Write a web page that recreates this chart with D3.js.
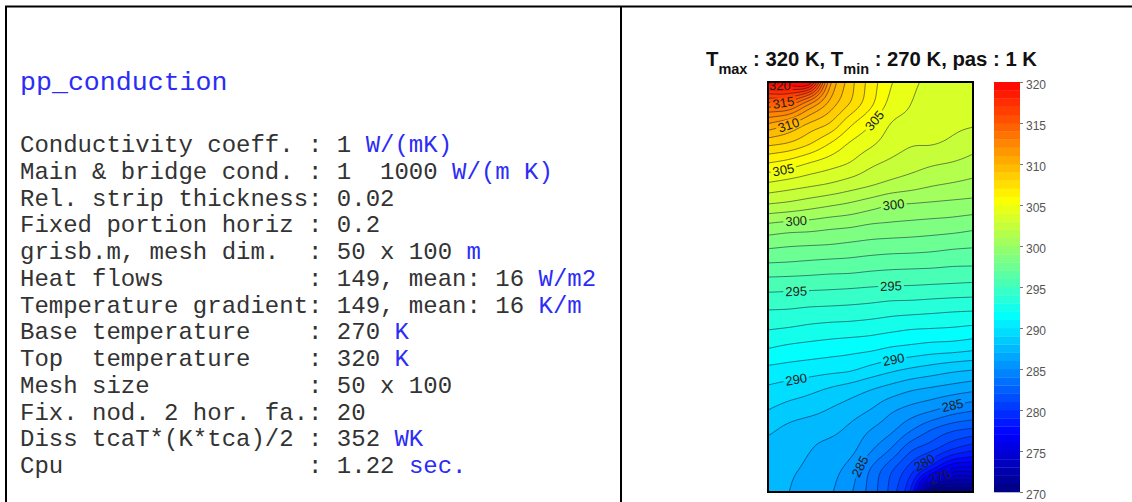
<!DOCTYPE html>
<html>
<head>
<meta charset="utf-8">
<title>pp_conduction</title>
<script src="https://cdn.jsdelivr.net/npm/d3@7/dist/d3.min.js"></script>
<style>
  html, body { margin: 0; padding: 0; background: #fff; }
  svg { display: block; }
  .mono, .mono text, .mono tspan { font-family: "Liberation Mono", "Courier New", monospace; white-space: pre; }
  .sans { font-family: "Liberation Sans", Arial, Helvetica, sans-serif; }
</style>
</head>
<body>
<svg id="fig" width="1132" height="502"></svg>
<script>
// ---------------- data ----------------
// mesh node coordinates (m): columns left -> right, rows top -> base
const meshX = [0, 5, 10, 15, 20, 25, 30, 35, 40, 45, 50];
const meshY = [0, 5, 10, 15, 20, 25, 30, 35, 40, 45, 50, 55, 60, 65, 70, 75, 80, 85, 90, 95, 100];

// temperature at the mesh nodes (K), one row per meshY entry
const temperature = [
  [320, 320, 320, 311.5, 308.5, 306.6, 305.1, 304.2, 303.8, 303.5, 303.3],
  [315, 314.8, 312.5, 309.8, 308.0, 306.3, 304.7, 304.0, 303.6, 303.4, 303.2],
  [311.1, 310.3, 309.0, 308.0, 306.3, 305.1, 304.0, 303.7, 303.4, 303.2, 303.1],
  [308.3, 307.9, 307.1, 306.0, 304.9, 304.2, 303.5, 303.1, 303.05, 302.8, 302.4],
  [305.9, 305.5, 304.9, 304.4, 303.9, 303.2, 302.75, 302.4, 302.1, 301.9, 301.6],
  [303.8, 303.5, 303.2, 302.9, 302.5, 302.1, 301.7, 301.4, 301.1, 300.9, 300.7],
  [301.9, 301.7, 301.4, 301.1, 300.8, 300.4, 300.0, 299.9, 299.8, 299.7, 299.6],
  [299.8, 299.6, 299.5, 299.3, 299.15, 298.9, 298.8, 298.7, 298.6, 298.5, 298.3],
  [298.2, 298.05, 297.97, 297.9, 297.75, 297.6, 297.5, 297.45, 297.35, 297.2, 297.1],
  [296.75, 296.7, 296.6, 296.5, 296.45, 296.3, 296.2, 296.15, 296.1, 296.0, 295.97],
  [295.33, 295.27, 295.23, 295.17, 295.1, 295.0, 294.93, 294.9, 294.83, 294.77, 294.7],
  [294.13, 294.09, 293.97, 293.91, 293.84, 293.73, 293.56, 293.5, 293.4, 293.3, 293.25],
  [293.1, 292.97, 292.79, 292.66, 292.59, 292.46, 292.28, 292.1, 292.03, 291.95, 291.8],
  [292.0, 291.76, 291.61, 291.47, 291.33, 291.19, 290.89, 290.7, 290.5, 290.4, 290.2],
  [290.8, 290.64, 290.49, 290.33, 290.17, 289.71, 289.26, 288.9, 288.6, 288.3, 288.1],
  [289.8, 289.53, 289.26, 288.89, 288.51, 288.04, 287.57, 287.1, 286.8, 286.5, 286.2],
  [289.0, 288.61, 288.33, 287.94, 287.51, 286.97, 286.19, 285.6, 285.1, 284.5, 284.1],
  [288.2, 287.71, 287.38, 287.24, 286.76, 285.97, 285.19, 284.0, 282.9, 282.1, 281.7],
  [287.5, 287.31, 287.03, 286.64, 286.26, 285.07, 283.79, 282.0, 281.0, 279.7, 278.9],
  [287.4, 287.11, 286.83, 286.34, 285.56, 283.87, 282.09, 280.2, 277.5, 275.2, 275.0],
  [287.3, 287.01, 286.63, 286.14, 285.16, 283.57, 281.59, 278.5, 270, 270, 270]
];

const tMin = 270, tMax = 320, tStep = 1;
const colorTicks = [270, 275, 280, 285, 290, 295, 300, 305, 310, 315, 320];

// inline contour labels: level and approximate spot (m) on the line
const contourLabels = [
  { level: 320, x: 2.9, y: 0.7 },
  { level: 315, x: 3.9, y: 5.1 },
  { level: 310, x: 5.6, y: 11.5 },
  { level: 305, x: 3.7, y: 22.0 },
  { level: 305, x: 26.1, y: 9.5 },
  { level: 300, x: 6.8, y: 34.4 },
  { level: 300, x: 30.5, y: 30.0 },
  { level: 295, x: 6.6, y: 51.5 },
  { level: 295, x: 29.8, y: 49.3 },
  { level: 290, x: 7.1, y: 73.4 },
  { level: 290, x: 30.5, y: 68.3 },
  { level: 285, x: 44.9, y: 79.3 },
  { level: 285, x: 22.4, y: 93.9 },
  { level: 280, x: 38.0, y: 92.7 },
  { level: 275, x: 42.4, y: 96.8 }
];

// run summary shown in the left panel: [plain text, unit]
const infoTitle = "pp_conduction";
const infoRows = [
  ["Conductivity coeff. : 1 ", "W/(mK)"],
  ["Main & bridge cond. : 1  1000 ", "W/(m K)"],
  ["Rel. strip thickness: 0.02", ""],
  ["Fixed portion horiz : 0.2", ""],
  ["grisb.m, mesh dim.  : 50 x 100 ", "m"],
  ["Heat flows          : 149, mean: 16 ", "W/m2"],
  ["Temperature gradient: 149, mean: 16 ", "K/m"],
  ["Base temperature    : 270 ", "K"],
  ["Top  temperature    : 320 ", "K"],
  ["Mesh size           : 50 x 100", ""],
  ["Fix. nod. 2 hor. fa.: 20", ""],
  ["Diss tcaT*(K*tca)/2 : 352 ", "WK"],
  ["Cpu                 : 1.22 ", "sec."]
];

// ---------------- layout ----------------
const plot = { x0: 768, x1: 973, y0: 82, y1: 492 };
const bar = { x0: 994, x1: 1020 };
const unitBlue = "#2c2cf6";
const textGray = "#333";

const svg = d3.select("#fig");
svg.append("rect").attr("width", 1132).attr("height", 502).attr("fill", "#fff");

// panel frame
svg.append("path")
  .attr("d", "M6,502V6.5H1132M621,6.5V502")
  .attr("fill", "none").attr("stroke", "#000").attr("stroke-width", 2);

// ---------------- left panel text ----------------
svg.append("text").attr("class", "mono")
  .attr("xml:space", "preserve")
  .attr("x", 20).attr("y", 90)
  .attr("font-size", 26.6).attr("fill", unitBlue)
  .text(infoTitle);

const rowsText = svg.append("g").attr("class", "mono").attr("font-size", 24);
infoRows.forEach((r, k) => {
  const t = rowsText.append("text")
    .attr("xml:space", "preserve")
    .style("white-space", "pre")
    .attr("x", 20).attr("y", 152 + k * 26.75);
  t.append("tspan").attr("fill", textGray).text(r[0]);
  if (r[1]) t.append("tspan").attr("fill", unitBlue).text(r[1]);
});

// ---------------- scales ----------------
const xs = d3.scaleLinear().domain([meshX[0], meshX[meshX.length - 1]]).range([plot.x0, plot.x1]);
const ys = d3.scaleLinear().domain([meshY[0], meshY[meshY.length - 1]]).range([plot.y0, plot.y1]);
const cs = d3.scaleLinear().domain([tMin, tMax]).range([plot.y1, plot.y0]);

// jet colour map, running from navy at tMin up to pure red at tMax
const jetPos = [0, 0.125, 0.375, 0.625, 0.875];
const jet = d3.scaleLinear()
  .domain(jetPos.map(p => tMin + (tMax - tMin) * p / 0.875))
  .range(["#000080", "#0000ff", "#00ffff", "#ffff00", "#ff0000"])
  .clamp(true);

// ---------------- smooth field for contouring ----------------
const F = 8;                                   // display refinement per mesh cell
const rowsN = temperature.length, colsN = temperature[0].length;
const nx = (colsN - 1) * F + 1, ny = (rowsN - 1) * F + 1;

function node(j, i) {
  if (j < 0) return 2 * node(0, i) - node(1, i);
  if (j >= rowsN) return 2 * node(rowsN - 1, i) - node(rowsN - 2, i);
  if (i < 0) return 2 * node(j, 0) - node(j, 1);
  if (i >= colsN) return 2 * node(j, colsN - 1) - node(j, colsN - 2);
  return temperature[j][i];
}
function cubic(p0, p1, p2, p3, t) {
  return 0.5 * (2 * p1 + (-p0 + p2) * t + (2 * p0 - 5 * p1 + 4 * p2 - p3) * t * t +
    (-p0 + 3 * p1 - 3 * p2 + p3) * t * t * t);
}
const field = new Float64Array(nx * ny);
for (let gy = 0; gy < ny; gy++) {
  const j = Math.min(Math.floor(gy / F), rowsN - 2), ty = gy / F - j;
  for (let gx = 0; gx < nx; gx++) {
    const i = Math.min(Math.floor(gx / F), colsN - 2), tx = gx / F - i;
    const c = [-1, 0, 1, 2].map(dj =>
      cubic(node(j + dj, i - 1), node(j + dj, i), node(j + dj, i + 1), node(j + dj, i + 2), tx));
    const v = cubic(c[0], c[1], c[2], c[3], ty);
    field[gy * nx + gx] = Math.max(tMin, Math.min(tMax, v));
  }
}

const levels = d3.range(tMin, tMax, tStep);
const bands = d3.contours().size([nx, ny]).thresholds(levels)(field);

// grid-cell coordinates -> mesh metres
const gxm = d3.scaleLinear().domain([0.5, nx - 0.5]).range(xs.domain());
const gym = d3.scaleLinear().domain([0.5, ny - 0.5]).range(ys.domain());
const toPx = d3.geoTransform({
  point(x, y) { this.stream.point(xs(gxm(x)), ys(gym(y))); }
});
const path = d3.geoPath(toPx);

const defs = svg.append("defs");
defs.append("clipPath").attr("id", "plotClip")
  .append("rect").attr("x", plot.x0).attr("y", plot.y0)
  .attr("width", plot.x1 - plot.x0).attr("height", plot.y1 - plot.y0);

const plotG = svg.append("g").attr("clip-path", "url(#plotClip)");

// filled bands, stacked from the coldest upward
plotG.append("g").selectAll("path")
  .data(bands).join("path")
  .attr("d", path)
  .attr("fill", d => jet(d.value + tStep / 2));

// ---------------- inline labels ----------------
const labelSize = 13;
const placed = contourLabels.map(d => {
  const target = [xs(d.x), ys(d.y)];
  const band = bands.find(b => b.value === d.level);
  let best = null;
  if (band && d.level > tMin) {
    band.coordinates.forEach(poly => poly.forEach(ring => {
      const pts = ring.map(([x, y]) => ({
        inside: x > 0 && x < nx && y > 0 && y < ny,
        p: [xs(gxm(x)), ys(gym(y))]
      }));
      pts.forEach((q, k) => {
        if (!q.inside) return;
        const dd = (q.p[0] - target[0]) ** 2 + (q.p[1] - target[1]) ** 2;
        if (!best || dd < best.dd) best = { dd, pts, k };
      });
    }));
  }
  if (!best) return { level: d.level, x: target[0], y: target[1], angle: 0 };
  const n = best.pts.length;
  let s = 4, a, b;
  do {
    a = best.pts[(best.k - s + n) % n]; b = best.pts[(best.k + s) % n]; s--;
  } while (s > 1 && !(a.inside && b.inside));
  let ang = Math.atan2(b.p[1] - a.p[1], b.p[0] - a.p[0]) * 180 / Math.PI;
  if (ang > 90) ang -= 180;
  if (ang < -90) ang += 180;
  return { level: d.level, x: best.pts[best.k].p[0], y: best.pts[best.k].p[1], angle: ang };
});

// gaps in the contour lines under the labels
const mask = defs.append("mask").attr("id", "labelGaps");
mask.append("rect").attr("x", 0).attr("y", 0).attr("width", 1132).attr("height", 502).attr("fill", "#fff");
mask.selectAll("rect.gap").data(placed).join("rect").attr("class", "gap")
  .attr("x", d => -String(d.level).length * 0.556 * labelSize / 2 - 2)
  .attr("y", -labelSize * 0.42)
  .attr("width", d => String(d.level).length * 0.556 * labelSize + 4)
  .attr("height", labelSize * 0.84)
  .attr("transform", d => `translate(${d.x},${d.y}) rotate(${d.angle})`)
  .attr("fill", "#000");

plotG.append("g").attr("mask", "url(#labelGaps)")
  .selectAll("path")
  .data(bands.filter(b => b.value > tMin))
  .join("path")
  .attr("d", path)
  .attr("fill", "none")
  .attr("stroke", "#0a0a30")
  .attr("stroke-opacity", 0.6)
  .attr("stroke-width", 0.85);

plotG.append("g").attr("class", "sans")
  .selectAll("text").data(placed).join("text")
  .attr("transform", d => `translate(${d.x},${d.y}) rotate(${d.angle})`)
  .attr("text-anchor", "middle")
  .attr("dy", "0.36em")
  .attr("font-size", labelSize)
  .attr("fill", "#1c1c1c")
  .text(d => d.level);

// plot frame
svg.append("rect")
  .attr("x", plot.x0).attr("y", plot.y0)
  .attr("width", plot.x1 - plot.x0).attr("height", plot.y1 - plot.y0)
  .attr("fill", "none").attr("stroke", "#000").attr("stroke-width", 2);

// ---------------- colour bar ----------------
svg.append("g").selectAll("rect")
  .data(levels).join("rect")
  .attr("x", bar.x0).attr("width", bar.x1 - bar.x0)
  .attr("y", d => cs(d + tStep))
  .attr("height", d => cs(d) - cs(d + tStep) + 0.3)
  .attr("fill", d => jet(d + tStep / 2));

const cbAxis = d3.axisRight(cs).tickValues(colorTicks).tickSize(3).tickPadding(3);
svg.append("g")
  .attr("transform", `translate(${bar.x1},0)`)
  .call(cbAxis)
  .call(g => g.select(".domain").remove())
  .call(g => g.selectAll(".tick line").attr("stroke", "#777"))
  .call(g => g.selectAll(".tick text")
    .attr("font-family", "Liberation Sans, Arial, sans-serif")
    .attr("font-size", 12).attr("fill", "#555").attr("dy", "0.5em"));

// ---------------- title ----------------
const title = svg.append("text").attr("class", "sans")
  .attr("x", 706).attr("y", 66)
  .attr("font-weight", "bold").attr("font-size", 20.3).attr("fill", "#111");
title.append("tspan").text("T");
title.append("tspan").attr("font-size", 14.5).attr("dy", 8).text("max");
title.append("tspan").attr("dy", -8).text(` : ${tMax} K, T`);
title.append("tspan").attr("font-size", 14.5).attr("dy", 8).text("min");
title.append("tspan").attr("dy", -8).text(` : ${tMin} K, pas : ${tStep} K`);
</script>
</body>
</html>
